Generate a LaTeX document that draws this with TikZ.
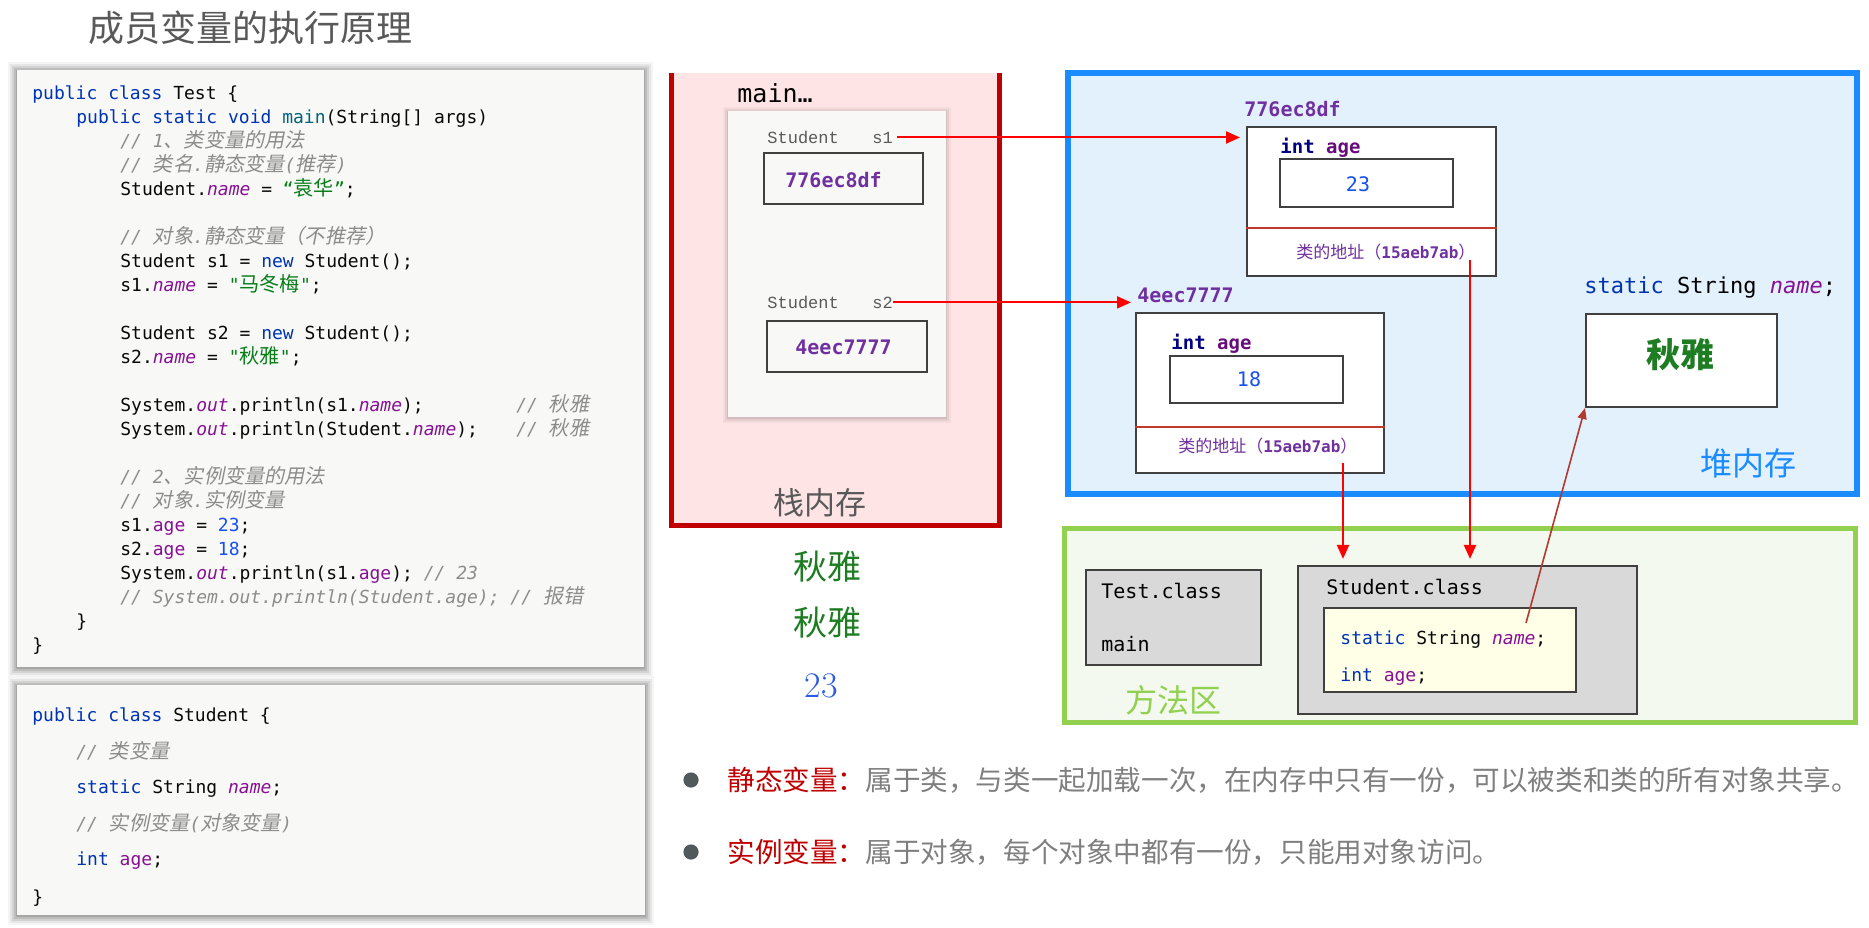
\documentclass[tikz,border=0pt]{standalone}
\usepackage{fontspec}
\setmonofont{DejaVu Sans Mono}
\newfontfamily\cjk{Noto Sans CJK SC}
\newfontfamily\cjc{Noto Sans CJK SC}[Scale=1.12]
\newfontfamily\cjcit{Noto Sans CJK SC}[Scale=1.12,FakeSlant=0.2]
\newfontfamily\lmono{Liberation Mono}
\usetikzlibrary{arrows.meta}
\definecolor{titlegray}{HTML}{595959}
\definecolor{codebg}{HTML}{F8F9F7}
\definecolor{codeblack}{HTML}{080808}
\definecolor{kwblue}{HTML}{0033B3}
\definecolor{mthcol}{HTML}{00627A}
\definecolor{fldpurple}{HTML}{871094}
\definecolor{strgreen}{HTML}{067D17}
\definecolor{numblue}{HTML}{1750EB}
\definecolor{cmtgray}{HTML}{8C8C8C}
\definecolor{stackfill}{HTML}{FFE4E6}
\definecolor{stackred}{HTML}{C00000}
\definecolor{stgray}{HTML}{595959}
\definecolor{addrpurple}{HTML}{7030A0}
\definecolor{boxgray}{HTML}{404040}
\definecolor{heapblue}{HTML}{1A8CFF}
\definecolor{heapfill}{HTML}{E3F1FD}
\definecolor{methgreen}{HTML}{92D050}
\definecolor{methfill}{HTML}{F3F9EE}
\definecolor{classgray}{HTML}{D9D9D9}
\definecolor{yellowfill}{HTML}{FFFFE8}
\definecolor{arrred}{HTML}{FF0000}
\definecolor{arrbrown}{HTML}{B03A2E}
\definecolor{sepred}{HTML}{C0392B}
\definecolor{navy}{HTML}{000080}
\definecolor{agepurple}{HTML}{660E7A}
\definecolor{greentxt}{HTML}{1E7D22}
\definecolor{outblue}{HTML}{2B5BE8}
\definecolor{labred}{HTML}{C00000}
\definecolor{bodygray}{HTML}{7F7F7F}
\definecolor{bulletgray}{HTML}{505A5A}
\newcommand\zh[1]{{\cjc #1}}
\newcommand\zhi[1]{{\cjcit #1}}
\newcommand\kw[1]{\textcolor{kwblue}{#1}}
\newcommand\fld[1]{\textcolor{fldpurple}{\itshape #1}}
\newcommand\fldn[1]{\textcolor{fldpurple}{#1}}
\newcommand\strg[1]{\textcolor{strgreen}{#1}}
\newcommand\numb[1]{\textcolor{numblue}{#1}}
\newcommand\cmt[1]{\textcolor{cmtgray}{\itshape #1}}
\newcommand\mth[1]{\textcolor{mthcol}{#1}}
\begin{document}
\begin{tikzpicture}[x=0.5pt,y=-0.5pt,line join=miter,
  code/.style={font=\ttfamily\fontsize{9}{11}\selectfont, inner sep=0pt, anchor=base west, text=codeblack},
  boxd/.style={draw=boxgray, line width=1pt, fill=white, inner sep=0pt},
  clsbox/.style={draw=boxgray, line width=1.1pt, fill=classgray, inner sep=0pt},
  redarr/.style={draw=arrred, line width=1pt, -{Triangle[length=7pt,width=6pt]}},
  brnarr/.style={draw=arrbrown, line width=0.8pt, -{Triangle[length=5.5pt,width=4.5pt]}},
  smono/.style={font=\lmono\fontsize{8.5}{10}\selectfont, text=stgray, inner sep=0pt, anchor=base west},
  addr/.style={font=\ttfamily\bfseries\fontsize{10}{12}\selectfont, text=addrpurple, inner sep=0pt, anchor=base west},
  intage/.style={font=\ttfamily\bfseries\fontsize{9.5}{11}\selectfont, inner sep=0pt, anchor=base west},
  clsaddr/.style={font=\cjk\fontsize{8.5}{10}\selectfont, text=addrpurple, inner sep=0pt, anchor=west},
  bigzh/.style={inner sep=0pt},
  bul/.style={font=\cjk\fontsize{13.8}{16}\selectfont, text=bodygray, inner sep=0pt, anchor=west}]
\fill[white] (0,0) rectangle (1869,927);
\useasboundingbox (0,0) rectangle (1869,927);

% title
\node[bigzh, font=\cjk\fontsize{18}{20}\selectfont, text=titlegray] (title) at (250,28) {成员变量的执行原理};

% ---------- code box 1
\foreach \d/\o in {9/0.04,7/0.06,5/0.08,3/0.10,1/0.12}
  \fill[black,opacity=\o] (17-\d,70-\d+1) rectangle (644+\d,667+\d+1);
\node[fill=codebg, inner sep=0, minimum width=313.5pt, minimum height=298.5pt] (cb1) at (330.5,368.5) {};
\node[code] (l0) at (32,99.5) {\kw{public class} Test \{};
\node[code] (l1) at (76,123.5) {\kw{public static void} \mth{main}(String[] args)};
\node[code] (l2) at (120,147.5) {\cmt{// 1\zhi{、类变量的用法}}};
\node[code] (l3) at (120,171.5) {\cmt{// \zhi{类名}.\zhi{静态变量}(\zhi{推荐})}};
\node[code] (l4) at (120,195.5) {Student.\fld{name} = \strg{“\zh{袁华}”};};
\node[code] (l6) at (120,243.5) {\cmt{// \zhi{对象}.\zhi{静态变量（不推荐）}}};
\node[code] (l7) at (120,267.5) {Student s1 = \kw{new} Student();};
\node[code] (l8) at (120,291.5) {s1.\fld{name} = \strg{"\zh{马冬梅}"};};
\node[code] (l10) at (120,339.5) {Student s2 = \kw{new} Student();};
\node[code] (l11) at (120,363.5) {s2.\fld{name} = \strg{"\zh{秋雅}"};};
\node[code] (l13) at (120,411.5) {System.\fld{out}.println(s1.\fld{name});};
\node[code] (c13) at (516,411.5) {\cmt{// \zhi{秋雅}}};
\node[code] (l14) at (120,435.5) {System.\fld{out}.println(Student.\fld{name});};
\node[code] (c14) at (516,435.5) {\cmt{// \zhi{秋雅}}};
\node[code] (l16) at (120,483.5) {\cmt{// 2\zhi{、实例变量的用法}}};
\node[code] (l17) at (120,507.5) {\cmt{// \zhi{对象}.\zhi{实例变量}}};
\node[code] (l18) at (120,531.5) {s1.\fldn{age} = \numb{23};};
\node[code] (l19) at (120,555.5) {s2.\fldn{age} = \numb{18};};
\node[code] (l20) at (120,579.5) {System.\fld{out}.println(s1.\fldn{age}); \cmt{// 23}};
\node[code] (l21) at (120,603.5) {\cmt{// System.out.println(Student.age); // \zhi{报错}}};
\node[code] (l22) at (76,627.5) {\}};
\node[code] (l23) at (32,651.5) {\}};

% ---------- code box 2
\foreach \d/\o in {9/0.04,7/0.06,5/0.08,3/0.10,1/0.12}
  \fill[black,opacity=\o] (17-\d,685-\d+1) rectangle (645+\d,915+\d+1);
\node[fill=codebg, inner sep=0, minimum width=314pt, minimum height=115pt] (cb2) at (331,800) {};
\node[code] (m0) at (32,721) {\kw{public class} Student \{};
\node[code] (m1) at (76,758) {\cmt{// \zhi{类变量}}};
\node[code] (m2) at (76,793) {\kw{static} String \fld{name};};
\node[code] (m3) at (76,830) {\cmt{// \zhi{实例变量}(\zhi{对象变量})}};
\node[code] (m4) at (76,865) {\kw{int} \fldn{age};};
\node[code] (m5) at (32,903) {\}};

% ---------- stack
\node[fill=stackfill, inner sep=0, minimum width=163.5pt, minimum height=226pt] (stack) at (835.5,299) {};
\draw[stackred, line width=2.6pt] (stack.north west) -- (stack.south west) -- (stack.south east) -- (stack.north east);
\node[font=\ttfamily\fontsize{12.5}{14}\selectfont, inner sep=0, anchor=base west] (mainlbl) at (737,102) {main…};
\foreach \d/\o in {5/0.04,3/0.06,1/0.08}
  \fill[black,opacity=\o] (728-\d,111-\d+1) rectangle (946+\d,417+\d+1);
\node[fill=codebg, inner sep=0, minimum width=109pt, minimum height=153pt] (frame) at (837,264) {};
\node[smono] (st1) at (767,143) {Student};
\node[smono] (s1) at (872,143) {s1};
\node[boxd, fill=codebg, minimum width=79.5pt, minimum height=25.5pt] (val1) at (843.5,178.5) {};
\node[addr] (v1txt) at (785,187) {776ec8df};
\node[smono] (st2) at (767,308) {Student};
\node[smono] (s2) at (872,308) {s2};
\node[boxd, fill=codebg, minimum width=80pt, minimum height=25.5pt] (val2) at (847,346.5) {};
\node[addr] (v2txt) at (795,354) {4eec7777};
\node[bigzh, font=\cjk\fontsize{15.5}{17}\selectfont, text=stgray] (stacklbl) at (820,503) {栈内存};

% ---------- outputs
\node[bigzh, font=\cjk\fontsize{17}{19}\selectfont, text=greentxt] (out1) at (827,567) {秋雅};
\node[bigzh, font=\cjk\fontsize{17}{19}\selectfont, text=greentxt] (out2) at (827,623) {秋雅};
\node[bigzh, font=\fontsize{18}{20}\selectfont, text=outblue] (out3) at (821,686) {23};

% ---------- heap
\node[draw=heapblue, line width=2.6pt, fill=heapfill, minimum width=394.5pt, minimum height=210.5pt, inner sep=0] (heap) at (1462.5,283.5) {};
\node[addr] (lbl1) at (1244,116) {776ec8df};
\node[boxd, minimum width=124.5pt, minimum height=74.5pt] (obj1) at (1371.5,201.5) {};
\draw[sepred, line width=1pt] (obj1.west |- 0,228) -- (obj1.east |- 0,228);
\node[intage] (ia1) at (1280,153) {\textcolor{navy}{int} \textcolor{agepurple}{age}};
\node[boxd, minimum width=86.5pt, minimum height=24pt] (in1) at (1366.5,183) {};
\node[font=\ttfamily\fontsize{10}{12}\selectfont, text=numblue, inner sep=0] (v23) at (1358,184) {23};
\node[clsaddr] (ca1) at (1296,252) {类的地址（{\ttfamily\bfseries\fontsize{8}{10}\selectfont 15aeb7ab}）};

\node[addr] (lbl2) at (1137,302) {4eec7777};
\node[boxd, minimum width=124pt, minimum height=80pt] (obj2) at (1260,393) {};
\draw[sepred, line width=1pt] (obj2.west |- 0,427) -- (obj2.east |- 0,427);
\node[intage] (ia2) at (1171,349) {\textcolor{navy}{int} \textcolor{agepurple}{age}};
\node[boxd, minimum width=86.5pt, minimum height=23.5pt] (in2) at (1256.5,379.5) {};
\node[font=\ttfamily\fontsize{10}{12}\selectfont, text=numblue, inner sep=0] (v18) at (1249,379) {18};
\node[clsaddr] (ca2) at (1178,446) {类的地址（{\ttfamily\bfseries\fontsize{8}{10}\selectfont 15aeb7ab}）};

\node[font=\ttfamily\fontsize{11}{13}\selectfont, inner sep=0, anchor=base west] (hname) at (1584,293) {\kw{static} String \fld{name};};
\node[boxd, minimum width=95.5pt, minimum height=46.5pt] (qiuya) at (1681.5,360.5) {};
\node[bigzh, font=\cjk\bfseries\fontsize{17}{19}\selectfont, text=greentxt] (qytxt) at (1680,355) {秋雅};
\node[bigzh, font=\cjk\fontsize{16}{18}\selectfont, text=heapblue] (heaplbl) at (1748,463) {堆内存};

% ---------- method area
\node[draw=methgreen, line width=2.5pt, fill=methfill, minimum width=395.5pt, minimum height=97pt, inner sep=0] (meth) at (1459.5,625) {};
\node[clsbox, minimum width=87.5pt, minimum height=47.5pt] (testbox) at (1173.5,617.5) {};
\node[font=\ttfamily\fontsize{10}{12}\selectfont, inner sep=0, anchor=base west] (testtxt) at (1101,598) {Test.class};
\node[font=\ttfamily\fontsize{10}{12}\selectfont, inner sep=0, anchor=base west] (maintxt) at (1101,651) {main};
\node[clsbox, minimum width=169.5pt, minimum height=74pt] (stbox) at (1467.5,640) {};
\node[font=\ttfamily\fontsize{10}{12}\selectfont, inner sep=0, anchor=base west] (sttxt) at (1326,594) {Student.class};
\node[draw=boxgray, line width=1.1pt, fill=yellowfill, inner sep=0, minimum width=126pt, minimum height=42pt] (ybox) at (1450,650) {};
\node[code] (y1) at (1340,644) {\kw{static} String \fld{name};};
\node[code] (y2) at (1340,681) {\kw{int} \fldn{age};};
\node[bigzh, font=\cjk\fontsize{16}{18}\selectfont, text=methgreen] (methlbl) at (1173,700) {方法区};

% ---------- arrows
\draw[redarr, shorten >=3pt] ([xshift=2pt]s1.east) -- (s1.east -| obj1.west);
\draw[redarr, shorten >=3pt] (s2.east) -- (s2.east -| lbl2.west);
\coordinate (c2) at (1343,463);
\coordinate (c1) at (1470,260);
\draw[redarr, shorten >=3pt] (c2) -- (c2 |- stbox.north);
\draw[redarr, shorten >=3pt] (c1) -- (c1 |- stbox.north);
\coordinate (nm) at (1526,623);
\draw[brnarr] (nm) -- (qiuya.south west);

% ---------- bullets
\fill[bulletgray] (691,780) circle (3.8pt);
\node[bul] (b1) at (727,780) {\textcolor{labred}{静态变量：}属于类，与类一起加载一次，在内存中只有一份，可以被类和类的所有对象共享。};
\fill[bulletgray] (691,852) circle (3.8pt);
\node[bul] (b2) at (727,852) {\textcolor{labred}{实例变量：}属于对象，每个对象中都有一份，只能用对象访问。};
\end{tikzpicture}
\end{document}
